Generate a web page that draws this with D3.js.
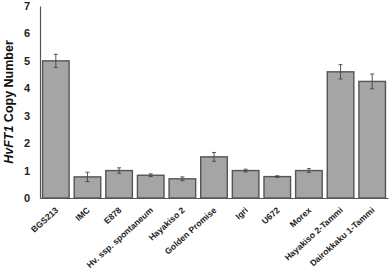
<!DOCTYPE html>
<html>
<head>
<meta charset="utf-8">
<script src="https://cdn.jsdelivr.net/npm/d3@7"></script>
<style>
  body { margin: 0; background: #fff; }
  svg { display: block; font-family: "Liberation Sans", Arial, sans-serif; }
</style>
</head>
<body>
<div id="chart"></div>
<script>
// HvFT1 copy number per barley line, mean with error bars
const lines = ['BGS213', 'IMC', 'E878', 'Hv. ssp. spontaneum', 'Hayakiso 2', 'Golden Promise',
    'Igri', 'U672', 'Morex', 'Hayakiso 2-Tammi', 'Dairokkaku 1-Tammi'];
const copyNumber = [5.0, 0.77, 1.0, 0.83, 0.7, 1.5, 1.0, 0.78, 1.0, 4.6, 4.25];
const errors = [0.24, 0.17, 0.1, 0.05, 0.07, 0.16, 0.05, 0.03, 0.07, 0.26, 0.27];
const yTicks = [0, 1, 2, 3, 4, 5, 6, 7];

const width = 390, height = 274;
const margin = { top: 6, right: 2, bottom: 76, left: 40 };

const svg = d3.select('#chart').append('svg')
    .attr('width', width)
    .attr('height', height);

const x = d3.scaleBand()
    .domain(lines)
    .range([margin.left, width - margin.right])
    .paddingInner(0.16)
    .paddingOuter(0.08);

const y = d3.scaleLinear()
    .domain([0, 7])
    .range([height - margin.bottom, margin.top]);

const data = lines.map((d, i) => ({ name: d, value: copyNumber[i], err: errors[i] }));

// bars
svg.append('g')
    .selectAll('rect')
    .data(data)
    .enter().append('rect')
    .attr('x', d => x(d.name))
    .attr('y', d => y(d.value))
    .attr('width', x.bandwidth())
    .attr('height', d => y(0) - y(d.value))
    .attr('fill', '#a5a5a5')
    .attr('stroke', '#555')
    .attr('stroke-width', 1.4);

// error bars
const eb = svg.append('g')
    .selectAll('g')
    .data(data)
    .enter().append('g')
    .attr('stroke', '#444')
    .attr('stroke-width', 0.9);

eb.append('line')
    .attr('x1', d => x(d.name) + x.bandwidth() / 2)
    .attr('x2', d => x(d.name) + x.bandwidth() / 2)
    .attr('y1', d => y(d.value + d.err))
    .attr('y2', d => y(d.value - d.err));
eb.append('line')
    .attr('x1', d => x(d.name) + x.bandwidth() / 2 - 2)
    .attr('x2', d => x(d.name) + x.bandwidth() / 2 + 2)
    .attr('y1', d => y(d.value + d.err))
    .attr('y2', d => y(d.value + d.err));
eb.append('line')
    .attr('x1', d => x(d.name) + x.bandwidth() / 2 - 2)
    .attr('x2', d => x(d.name) + x.bandwidth() / 2 + 2)
    .attr('y1', d => y(d.value - d.err))
    .attr('y2', d => y(d.value - d.err));

// y axis
const yAxis = svg.append('g')
    .attr('transform', `translate(${margin.left},0)`)
    .call(d3.axisLeft(y).tickValues(yTicks).tickFormat(d3.format('d')).tickSize(0).tickPadding(10));
yAxis.select('.domain').attr('stroke', '#555').attr('stroke-width', 1.2);
yAxis.selectAll('text')
    .attr('font-size', '11px')
    .attr('font-weight', 'bold')
    .attr('fill', '#222')
    .attr('font-family', '"Liberation Sans", Arial, sans-serif');

// x axis
const xAxis = svg.append('g')
    .attr('transform', `translate(0,${y(0)})`)
    .call(d3.axisBottom(x).tickSize(0).tickSizeOuter(0));
xAxis.select('.domain').attr('stroke', '#555').attr('stroke-width', 1.2);
xAxis.selectAll('text')
    .attr('font-size', '8.6px')
    .attr('font-weight', 'bold')
    .attr('fill', '#222')
    .attr('font-family', '"Liberation Sans", Arial, sans-serif')
    .attr('text-anchor', 'end')
    .attr('dy', null)
    .attr('y', 0)
    .attr('transform', 'translate(3,13) rotate(-42)');

// y title
const title = svg.append('text')
    .attr('transform', `translate(13,${(y(0) + y(7)) / 2}) rotate(-90)`)
    .attr('text-anchor', 'middle')
    .attr('font-size', '12.5px')
    .attr('font-weight', 'bold')
    .attr('fill', '#111');
title.append('tspan').attr('font-style', 'italic').text('HvFT1');
title.append('tspan').text(' Copy Number');
</script>
</body>
</html>
